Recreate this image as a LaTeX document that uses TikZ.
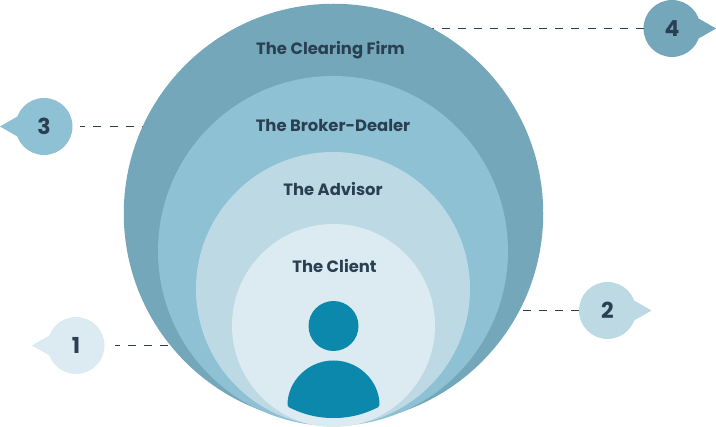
\documentclass[tikz,border=0pt]{standalone}
\usepackage{fontspec}
\setmainfont{Poppins}
\usepackage{xcolor}

\definecolor{firmcol}{HTML}{75A7BA}
\definecolor{dealercol}{HTML}{8DC1D3}
\definecolor{advisorcol}{HTML}{BDDAE4}
\definecolor{clientcol}{HTML}{DCEBF2}
\definecolor{personcol}{HTML}{0C88AD}
\definecolor{inkcol}{HTML}{2A4052}

\tikzset{
  ring/.style={circle, inner sep=0pt, minimum size=#1},
  label/.style={text=inkcol, font=\fontsize{16.4}{20}\selectfont\bfseries},
  bubble/.style={circle, inner sep=0pt, minimum size=57pt, text=inkcol, font=\fontsize{22}{24}\selectfont\bfseries},
  leader/.style={draw=inkcol, line width=0.8pt, dash pattern=on 8pt off 8.2pt}
}

\begin{document}
\begin{tikzpicture}[x=1pt, y=-1pt]

    \useasboundingbox (0, 0) rectangle (716, 427);

    % leader lines go under the discs
    \coordinate (c) at (168.3, 345.5);
    \coordinate (d) at (522.7, 310.5);
    \coordinate (e) at (150, 126.5);
    \coordinate (f) at (425.6, 28.5);

    \node [bubble, fill=clientcol] (n1) at (76, 345.5) {1};
    \node [bubble, fill=advisorcol] (n2) at (607.5, 310.5) {2};
    \node [bubble, fill=dealercol] (n3) at (44, 126.5) {3};
    \node [bubble, fill=firmcol] (n4) at (672, 28.5) {4};

    \coordinate (t1) at (32, 345.5);
    \coordinate (t2) at (651.5, 310.5);
    \coordinate (t3) at (0, 126.5);
    \coordinate (t4) at (716, 28.5);

    \fill [clientcol] (n1.160) -- (t1) -- (n1.200) -- cycle;
    \fill [advisorcol] (n2.20) -- (t2) -- (n2.-20) -- cycle;
    \fill [dealercol] (n3.160) -- (t3) -- (n3.200) -- cycle;
    \fill [firmcol] (n4.20) -- (t4) -- (n4.-20) -- cycle;

    \draw [leader, shorten >=10.5pt] (c) -- (n1);
    \draw [leader, shorten >=-2pt] (d) to (n2);
    \draw [leader, shorten >=7.5pt] (e) -- (n3);
    \draw [leader, shorten >=-7.5pt] (f) -- (n4);

    % nested discs
    \node [ring=419.5pt, fill=firmcol] (firm) at (333.5, 213.5) {};
    \node [ring=350pt, fill=dealercol] (dealer) at (333, 251) {};
    \node [ring=274pt, fill=advisorcol] (advisor) at (333, 289) {};
    \node [ring=203pt, fill=clientcol] (client) at (333.5, 325.5) {};

    \node [label] (a) at (330.5, 50) {The Clearing Firm};
    \node [label] (b) at (333, 125.5) {The Broker-Dealer};
    \node [label] (g) at (333, 189.5) {The Advisor};
    \node [label] (h) at (334.5, 266.5) {The Client};

    % person
    \node [ring=50pt, fill=personcol] (head) at (333.5, 326) {};
    \fill [personcol, rounded corners=1.5pt] (287.5, 406.5) arc [start angle=180, end angle=360, radius=46]
      .. controls (364, 414.5) and (349, 418) .. (333.5, 418)
      .. controls (318, 418) and (303, 414.5) .. cycle;

\end{tikzpicture}
\end{document}
